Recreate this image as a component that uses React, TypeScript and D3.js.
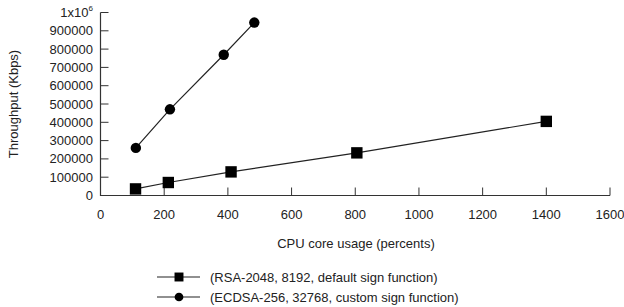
import React, { useEffect, useRef } from 'react';
import * as d3 from 'd3';

const rsaCpu = [110, 213, 410, 805, 1400];
const rsaThroughput = [36000, 71000, 129000, 233000, 405000];
const ecdsaCpu = [111, 218, 387, 483];
const ecdsaThroughput = [260000, 471000, 769000, 945000];
const xTicks = [0, 200, 400, 600, 800, 1000, 1200, 1400, 1600];
const yTicks = [0, 100000, 200000, 300000, 400000, 500000, 600000, 700000, 800000, 900000, 1000000];
const seriesNames = ['(RSA-2048, 8192, default sign function)', '(ECDSA-256, 32768, custom sign function)'];

const FONT = '"Liberation Sans", Arial, sans-serif';

const App = () => {
  const ref = useRef<SVGSVGElement>(null);

  useEffect(() => {
    if (!ref.current) return;
    const svg = d3.select(ref.current);
    svg.selectAll('*').remove();

    const x = d3.scaleLinear().domain([0, 1600]).range([100.5, 610]);
    const y = d3.scaleLinear().domain([0, 1000000]).range([195.5, 12.5]);

    // axes
    const g = svg.append('g').attr('font-family', FONT).attr('font-size', 13).attr('fill', '#222');
    g.append('path')
      .attr('d', `M${x(0)},${y(1000000)}V${y(0)}H${x(1600)}`)
      .attr('fill', 'none')
      .attr('stroke', '#333')
      .attr('stroke-width', 1.2);

    xTicks.forEach((t) => {
      g.append('line')
        .attr('x1', x(t)).attr('x2', x(t))
        .attr('y1', y(0)).attr('y2', y(0) - 8)
        .attr('stroke', '#333');
      g.append('text')
        .attr('x', x(t)).attr('y', 219)
        .attr('text-anchor', 'middle')
        .text(t);
    });

    yTicks.forEach((t) => {
      g.append('line')
        .attr('x1', x(0)).attr('x2', x(0) + 8)
        .attr('y1', y(t)).attr('y2', y(t))
        .attr('stroke', '#333');
      const label = g.append('text')
        .attr('x', 93).attr('y', y(t) + 4.5)
        .attr('text-anchor', 'end');
      if (t === 1000000) {
        label.append('tspan').text('1x10');
        label.append('tspan').attr('font-size', 8).attr('dy', -6).text('6');
      } else {
        label.text(t);
      }
    });

    g.append('text')
      .attr('x', 356).attr('y', 248)
      .attr('text-anchor', 'middle')
      .text('CPU core usage (percents)');
    g.append('text')
      .attr('transform', 'translate(18,104) rotate(-90)')
      .attr('text-anchor', 'middle')
      .text('Throughput (Kbps)');

    const line = d3.line<[number, number]>()
      .x((d) => x(d[0]))
      .y((d) => y(d[1]));

    const rsa = rsaCpu.map((c, i) => [c, rsaThroughput[i]] as [number, number]);
    const ecdsa = ecdsaCpu.map((c, i) => [c, ecdsaThroughput[i]] as [number, number]);

    svg.append('path').datum(rsa).attr('d', line).attr('fill', 'none').attr('stroke', '#222').attr('stroke-width', 1.2);
    svg.append('path').datum(ecdsa).attr('d', line).attr('fill', 'none').attr('stroke', '#222').attr('stroke-width', 1.2);

    const square = d3.symbol().type(d3.symbolSquare).size(130);
    const circle = d3.symbol().type(d3.symbolCircle).size(85);

    svg.selectAll('.sq').data(rsa).enter().append('path')
      .attr('d', square)
      .attr('transform', (d) => `translate(${x(d[0])},${y(d[1])})`)
      .attr('fill', '#000');
    svg.selectAll('.ci').data(ecdsa).enter().append('path')
      .attr('d', circle)
      .attr('transform', (d) => `translate(${x(d[0])},${y(d[1])})`)
      .attr('fill', '#000');

    // legend
    const legendRows = [277, 297];
    seriesNames.forEach((name, i) => {
      const ly = legendRows[i];
      svg.append('line')
        .attr('x1', 157).attr('x2', 200)
        .attr('y1', ly).attr('y2', ly)
        .attr('stroke', '#222').attr('stroke-width', 1.2);
      svg.append('path')
        .attr('d', i === 0 ? d3.symbol().type(d3.symbolSquare).size(80)() : d3.symbol().type(d3.symbolCircle).size(60)())
        .attr('transform', `translate(179,${ly})`)
        .attr('fill', '#000');
      svg.append('text')
        .attr('x', 210).attr('y', ly + 4.5)
        .attr('font-family', FONT).attr('font-size', 13).attr('fill', '#222')
        .text(name);
    });
  }, []);

  return (
    <svg
      ref={ref}
      width={624}
      height={307}
      style={{ display: 'block', position: 'absolute', top: 0, left: 0 }}
    />
  );
};

export default App;
